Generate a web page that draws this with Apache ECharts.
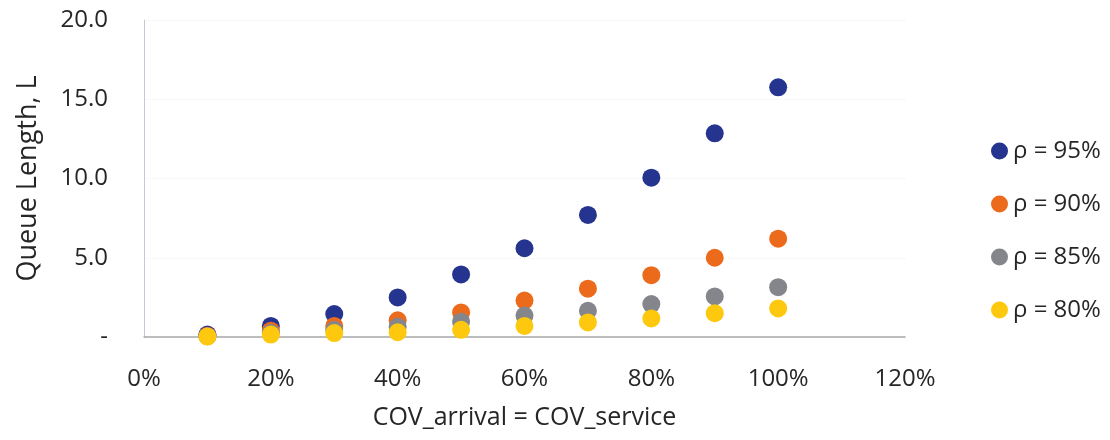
<!DOCTYPE html>
<html>
<head>
<meta charset="utf-8">
<script src="https://cdn.jsdelivr.net/npm/echarts@6/dist/echarts.min.js"></script>
<style>
  html, body { margin: 0; padding: 0; background: #fff; }
  #chart { width: 1110px; height: 440px; }
</style>
</head>
<body>
<div id="chart"></div>
<script>
// Coefficient of variation (arrival = service), as fractions
const cov = [0.1, 0.2, 0.3, 0.4, 0.5, 0.6, 0.7, 0.8, 0.9, 1.0];

// Mean queue length L for each utilisation level
const rho95 = [0.15, 0.7, 1.45, 2.5, 3.95, 5.6, 7.7, 10.05, 12.85, 15.75];
const rho90 = [0.08, 0.4, 0.7, 1.05, 1.55, 2.3, 3.05, 3.9, 5.0, 6.2];
const rho85 = [0.05, 0.25, 0.45, 0.65, 0.97, 1.35, 1.65, 2.08, 2.56, 3.14];
const rho80 = [0.03, 0.15, 0.25, 0.3, 0.45, 0.7, 0.92, 1.17, 1.5, 1.8];

const seriesNames = ['ρ = 95%', 'ρ = 90%', 'ρ = 85%', 'ρ = 80%'];
const seriesColors = ['#25358f', '#ec6a1c', '#85868b', '#fdc80e'];
const seriesValues = [rho95, rho90, rho85, rho80];

const FONT = '"Open Sans", Lato, sans-serif';
const TEXT = '#262626';
const chart = echarts.init(document.getElementById('chart'), null, { renderer: 'canvas' });

chart.setOption({
  animation: false,
  backgroundColor: '#ffffff',
  grid: { left: 144, right: 205, top: 20, bottom: 103, containLabel: false },
  legend: {
    orient: 'vertical',
    left: 986,
    top: 134,
    itemGap: 29,
    itemWidth: 17,
    itemHeight: 17,
    icon: 'circle',
    data: seriesNames,
    textStyle: { fontFamily: FONT, fontSize: 24, color: TEXT, padding: [0, 0, 0, 0] }
  },
  xAxis: {
    type: 'value',
    min: 0,
    max: 1.2,
    interval: 0.2,
    name: 'COV_arrival = COV_service',
    nameLocation: 'middle',
    nameGap: 68,
    nameTextStyle: { fontFamily: FONT, fontSize: 25, color: TEXT },
    axisLine: { show: true, lineStyle: { color: '#a8a8a8', width: 1.5 } },
    axisTick: { show: false },
    splitLine: { show: false },
    axisLabel: {
      margin: 30,
      fontFamily: FONT,
      fontSize: 24,
      color: TEXT,
      formatter: v => Math.round(v * 100) + '%'
    }
  },
  yAxis: {
    type: 'value',
    min: 0,
    max: 20,
    interval: 5,
    name: 'Queue Length, L',
    nameLocation: 'middle',
    nameGap: 102,
    nameTextStyle: { fontFamily: FONT, fontSize: 27, color: TEXT },
    axisLine: { show: true, lineStyle: { color: '#c4c8d8', width: 1 } },
    axisTick: { show: false },
    splitLine: { show: true, lineStyle: { color: '#f0f0f0', type: 'dotted', width: 1 } },
    axisLabel: {
      margin: 36,
      fontFamily: FONT,
      fontSize: 24,
      color: TEXT,
      formatter: v => (v === 0 ? '-' : v.toFixed(1))
    }
  },
  series: seriesValues.map((vals, i) => ({
    name: seriesNames[i],
    type: 'scatter',
    symbol: 'circle',
    symbolSize: 18,
    itemStyle: { color: seriesColors[i], opacity: 1 },
    data: cov.map((c, k) => [c, vals[k]])
  }))
});
</script>
</body>
</html>
